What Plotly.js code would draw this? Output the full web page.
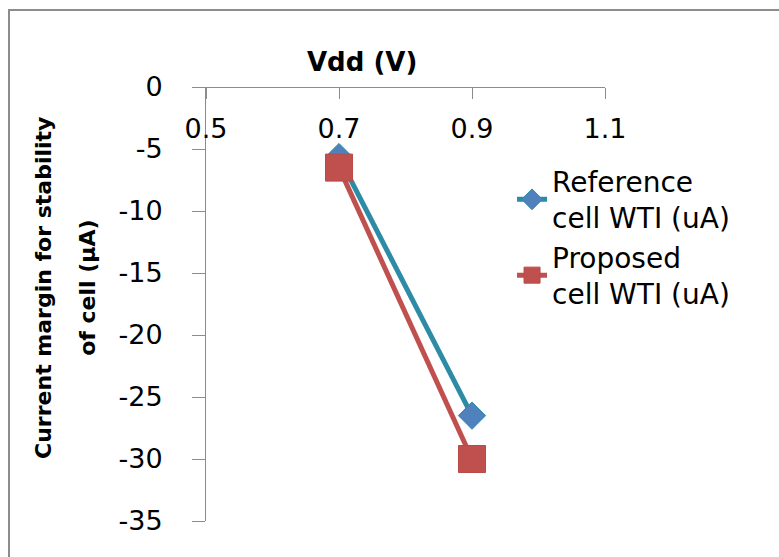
<!DOCTYPE html>
<html>
<head>
<meta charset="utf-8">
<script src="https://cdn.plot.ly/plotly-3.0.1.min.js"></script>
<style>
html,body{margin:0;padding:0;background:#fff;}
#frame{position:absolute;left:8px;top:9px;width:800px;height:600px;border-left:2px solid #8c8c8c;border-top:2px solid #8c8c8c;}
#chart{position:absolute;left:0;top:0;width:779px;height:557px;}
</style>
</head>
<body>
<div id="frame"></div>
<div id="chart"></div>
<script>
const vdd = [0.7, 0.9];
const referenceWTI = [-5.65, -26.5];
const proposedWTI = [-6.5, -30.0];
const seriesNames = ['Reference<br>cell WTI (uA)', 'Proposed<br>cell WTI (uA)'];
const xTicks = [0.5, 0.7, 0.9, 1.1];
const yTicks = [0, -5, -10, -15, -20, -25, -30, -35];

const FONT = '"DejaVu Sans", "Open Sans", sans-serif';

const traces = [
  {
    x: vdd, y: referenceWTI, name: seriesNames[0], mode: 'lines+markers', type: 'scatter',
    line: {color: '#2E8BA6', width: 5},
    marker: {symbol: 'diamond', size: 21, color: '#4F81BD', line: {color: '#2E8BA6', width: 1}}
  },
  {
    x: vdd, y: proposedWTI, name: seriesNames[1], mode: 'lines+markers', type: 'scatter',
    line: {color: '#C0504D', width: 5},
    marker: {symbol: 'square', size: 27, color: '#C0504D', line: {color: '#B84A47', width: 1}}
  }
];

const layout = {
  width: 779, height: 557,
  margin: {l: 206, r: 174, t: 87, b: 36},
  paper_bgcolor: 'rgba(0,0,0,0)',
  plot_bgcolor: 'rgba(0,0,0,0)',
  showlegend: true,
  font: {family: FONT, color: '#000'},
  xaxis: {
    range: [0.5, 1.1], side: 'bottom', anchor: 'free', position: 1,
    tickvals: xTicks, ticktext: xTicks.map(v => v.toFixed(1)),
    ticks: 'outside', ticklen: 11, tickcolor: '#8c8c8c', tickwidth: 1,
    ticklabelstandoff: 7,
    showline: true, linecolor: '#8c8c8c', linewidth: 1,
    showgrid: false, zeroline: false,
    tickfont: {size: 27, family: FONT, color: '#000'}
  },
  yaxis: {
    range: [-35, 0],
    tickvals: yTicks, ticktext: yTicks.map(v => String(v)),
    ticks: 'outside', ticklen: 13, tickcolor: '#8c8c8c', tickwidth: 1,
    ticklabelstandoff: 24,
    showline: true, linecolor: '#8c8c8c', linewidth: 1,
    showgrid: false, zeroline: false,
    tickfont: {size: 27, family: FONT, color: '#000'}
  },
  legend: {
    x: 0.767, y: 0.84, xanchor: 'left', yanchor: 'top',
    font: {size: 28, family: FONT, color: '#000'},
    bgcolor: 'rgba(0,0,0,0)', itemwidth: 30
  },
  annotations: [
    {text: '<b>Vdd (V)</b>', xref: 'paper', yref: 'paper', x: 0.39, y: 1.058,
     xanchor: 'center', yanchor: 'middle',
     showarrow: false, font: {size: 26, family: FONT, color: '#000'}},
    {text: '<b>Current margin for stability</b>', xref: 'paper', yref: 'paper',
     x: -0.406, y: 0.537, xanchor: 'center', yanchor: 'middle', textangle: -90, showarrow: false,
     font: {size: 22, family: FONT, color: '#000'}},
    {text: '<b>of cell (µA)</b>', xref: 'paper', yref: 'paper',
     x: -0.296, y: 0.537, xanchor: 'center', yanchor: 'middle', textangle: -90, showarrow: false,
     font: {size: 22, family: FONT, color: '#000'}}
  ]
};

Plotly.newPlot('chart', traces, layout, {displayModeBar: false, staticPlot: true});
</script>
</body>
</html>
